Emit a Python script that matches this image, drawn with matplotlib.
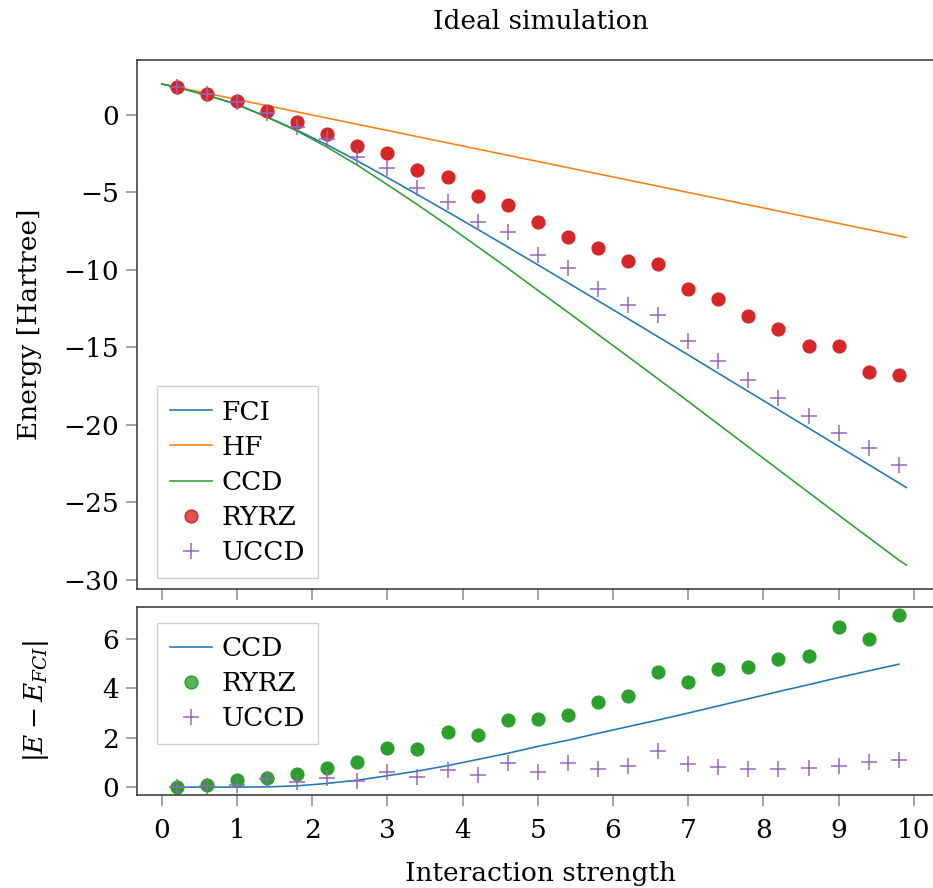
import matplotlib
matplotlib.use("Agg")
import matplotlib.pyplot as plt
from matplotlib.colors import to_rgba

plt.rcParams['font.family'] = ['DejaVu Serif']
plt.rcParams['mathtext.fontset'] = 'dejavuserif'
plt.rcParams['font.size'] = 19

# Interaction strengths where the quantum solvers were evaluated
g_points = [0.2, 0.6, 1.0, 1.4, 1.8, 2.2, 2.6, 3.0, 3.4, 3.8, 4.2, 4.6, 5.0,
            5.4, 5.8, 6.2, 6.6, 7.0, 7.4, 7.8, 8.2, 8.6, 9.0, 9.4, 9.8]

# Grid for the reference curves
g_line = [0.0] + g_points + [9.9]

fci_energy = [2.0, 1.79, 1.28, 0.68, -0.13, -0.99, -1.93, -2.96, -4.04, -5.14,
              -6.25, -7.38, -8.52, -9.67, -10.83, -11.99, -13.15, -14.32,
              -15.49, -16.67, -17.85, -19.03, -20.21, -21.39, -22.57, -23.75,
              -24.05]
hf_energy = [2.0, 1.8, 1.4, 1.0, 0.6, 0.2, -0.2, -0.6, -1.0, -1.4, -1.8, -2.2,
             -2.6, -3.0, -3.4, -3.8, -4.2, -4.6, -5.0, -5.4, -5.8, -6.2, -6.6,
             -7.0, -7.4, -7.8, -7.9]
ccd_energy = [2.0, 1.79, 1.28, 0.68, -0.14, -1.04, -2.08, -3.24, -4.50, -5.79,
              -7.12, -8.50, -9.89, -11.32, -12.73, -14.17, -15.60, -17.04,
              -18.49, -19.96, -21.43, -22.90, -24.36, -25.83, -27.28, -28.73,
              -29.05]

ryrz_energy = [1.81, 1.37, 0.91, 0.23, -0.45, -1.22, -1.97, -2.47, -3.57, -4.0,
               -5.22, -5.81, -6.91, -7.89, -8.56, -9.44, -9.63, -11.25, -11.9,
               -12.99, -13.8, -14.9, -14.9, -16.6, -16.8]
uccd_energy = [1.83, 1.33, 0.82, 0.15, -0.75, -1.55, -2.73, -3.44, -4.73,
               -5.59, -6.88, -7.57, -9.05, -9.85, -11.25, -12.28, -12.88,
               -14.58, -15.85, -17.1, -18.3, -19.46, -20.5, -21.5, -22.6]

# Absolute deviations from FCI
ccd_error = [0.0, 0.0, 0.0, 0.01, 0.05, 0.15, 0.28, 0.46, 0.65, 0.87, 1.12,
             1.37, 1.65, 1.9, 2.18, 2.45, 2.72, 3.0, 3.29, 3.58, 3.87, 4.15,
             4.44, 4.71, 4.98]
ryrz_error = [0.01, 0.08, 0.28, 0.35, 0.55, 0.76, 1.0, 1.57, 1.54, 2.24, 2.11,
              2.72, 2.77, 2.92, 3.43, 3.71, 4.68, 4.25, 4.77, 4.85, 5.21, 5.30,
              6.48, 6.0, 6.98]
uccd_error = [0.0, 0.05, 0.1, 0.32, 0.22, 0.35, 0.24, 0.62, 0.39, 0.69, 0.49,
              0.96, 0.61, 0.99, 0.72, 0.85, 1.46, 0.92, 0.82, 0.73, 0.72, 0.76,
              0.85, 1.01, 1.11]

x_ticks = [0, 1, 2, 3, 4, 5, 6, 7, 8, 9, 10]

W, H = 933, 888
fig = plt.figure(figsize=(W / 100, H / 100), dpi=100)

left = 137 / W
width = 806.9 / W
ax_top = fig.add_axes([left, 1 - 589 / H, width, (589 - 60) / H])
ax_bot = fig.add_axes([left, 1 - 795 / H, width, (795 - 606.7) / H])

lw = 1.15
ax_top.plot(g_line, fci_energy, color='tab:blue', lw=lw, label='FCI')
ax_top.plot(g_line, hf_energy, color='tab:orange', lw=lw, label='HF')
ax_top.plot(g_line, ccd_energy, color='tab:green', lw=lw, label='CCD')
ax_top.plot(g_points, ryrz_energy, 'o', color='tab:red', ms=9.2, mec='tab:red',
            label='RYRZ')
ax_top.plot(g_points, uccd_energy, '+', color='tab:purple', ms=11.5, mew=1.1,
            label='UCCD')

ax_bot.plot(g_points, ccd_error, color='tab:blue', lw=lw, label='CCD')
ax_bot.plot(g_points, ryrz_error, 'o', color='tab:green', ms=9.2,
            mec='tab:green', label='RYRZ')
ax_bot.plot(g_points, uccd_error, '+', color='tab:purple', ms=11.5, mew=1.1,
            label='UCCD')

for ax in (ax_top, ax_bot):
    ax.set_xlim(-0.33, 10.4)
    ax.set_xticks(x_ticks)
    ax.tick_params(direction='out', length=7.8, width=1.1, color='#8a8a8a',
                   labelsize=19, pad=5)
    for s in ax.spines.values():
        s.set_color('#333333')
        s.set_linewidth(1.1)

ax_top.set_ylim(-30.6, 3.55)
ax_top.set_yticks([0, -5, -10, -15, -20, -25, -30])
ax_top.set_yticklabels(['0', '\u22125', '\u221210', '\u221215', '\u221220',
                        '\u221225', '\u221230'])
ax_top.tick_params(axis='x', labelbottom=False)

ax_bot.set_ylim(-0.32, 7.31)
ax_bot.set_yticks([0, 2, 4, 6])
ax_bot.set_xticklabels([str(t) for t in x_ticks])
ax_bot.tick_params(axis='x', pad=9)

ax_top.set_title('Ideal simulation', fontsize=19, pad=22)
ax_top.set_ylabel('Energy [Hartree]', fontsize=19)
ax_bot.set_ylabel(r'$|E - E_{FCI}|$', fontsize=19)
ax_top.yaxis.set_label_coords(42.5 / W, 1 - 324.5 / H, transform=fig.transFigure)
ax_bot.yaxis.set_label_coords(51 / W, 1 - 701 / H, transform=fig.transFigure)
ax_bot.set_xlabel('Interaction strength', fontsize=19, labelpad=13)

leg_kw = dict(fontsize=19, fancybox=False, framealpha=1, edgecolor='#d0d0d0',
              borderaxespad=0, handlelength=1.6, handletextpad=0.35,
              labelspacing=0.38, borderpad=0.5)
leg1 = ax_top.legend(loc='lower left', bbox_to_anchor=(0.0248, 0.0208), **leg_kw)
leg2 = ax_bot.legend(loc='upper left', bbox_to_anchor=(0.0248, 0.9134), **leg_kw)
for leg in (leg1, leg2):
    leg.get_frame().set_linewidth(1.0)
    for h in leg.legend_handles:
        if h.get_marker() == 'o':
            h.set_markerfacecolor(to_rgba(h.get_color(), 0.8))

fig.savefig('out.png', dpi=100)
